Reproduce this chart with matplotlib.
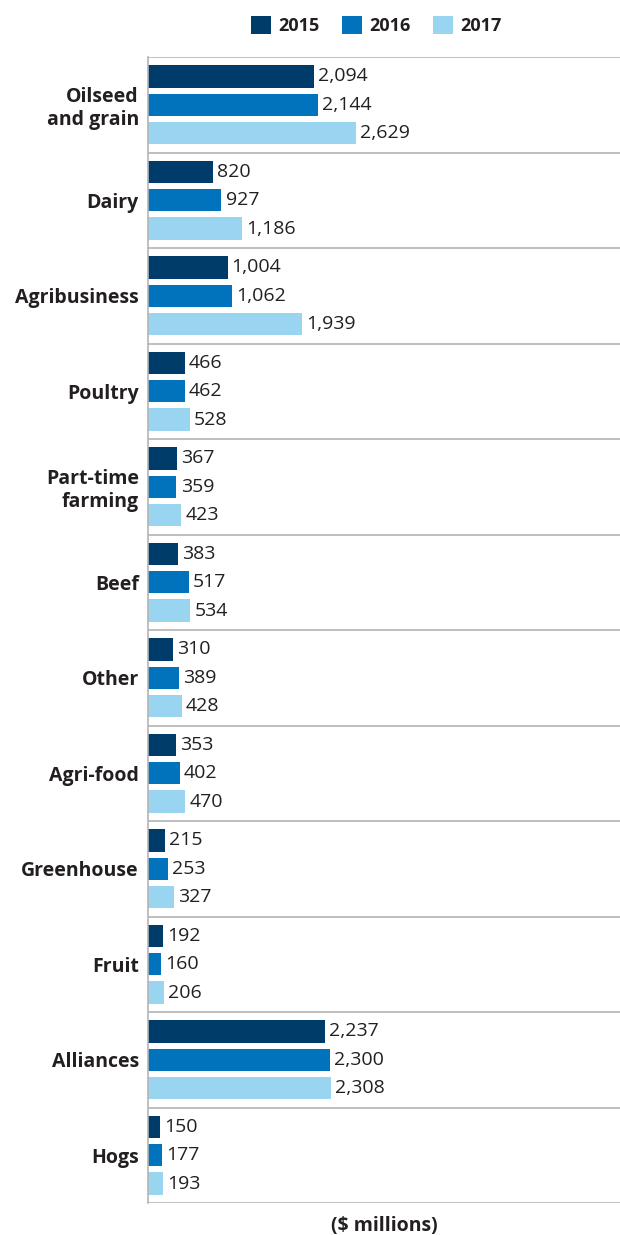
import matplotlib
matplotlib.use('Agg')
import matplotlib.pyplot as plt
import numpy as np
from matplotlib.patches import Patch

# Loan values by sector, $ millions
sectors = ['Oilseed\nand grain', 'Dairy', 'Agribusiness', 'Poultry',
           'Part-time\nfarming', 'Beef', 'Other', 'Agri-food', 'Greenhouse',
           'Fruit', 'Alliances', 'Hogs']
years = ['2015', '2016', '2017']
v2015 = [2094, 820, 1004, 466, 367, 383, 310, 353, 215, 192, 2237, 150]
v2016 = [2144, 927, 1062, 462, 359, 517, 389, 402, 253, 160, 2300, 177]
v2017 = [2629, 1186, 1939, 528, 423, 534, 428, 470, 327, 206, 2308, 193]

colors = ['#003c69', '#0073bc', '#99d4f1']
text_color = '#231f20'
line_color = '#b4b4b4'

plt.rcParams['font.family'] = ['Open Sans', 'DejaVu Sans']

fig = plt.figure(figsize=(6.2, 12.35), dpi=100)
ax = fig.add_axes([148 / 620, 1 - 1203 / 1235, 1 - 148 / 620, (1203 - 57) / 1235])

y = np.arange(len(sectors))
step = 0.296
bar_h = 0.232
for k, (vals, col) in enumerate(zip([v2015, v2016, v2017], colors)):
    bars = ax.barh(y + (k - 1) * step, vals, height=bar_h, color=col)
    ax.bar_label(bars, labels=[f'{v:,}' for v in vals], padding=3,
                 fontsize=14, color=text_color)

# separators between sector groups
for b in np.arange(-0.5, len(sectors), 1.0):
    ax.axhline(b, color=line_color, lw=1.2)

ax.set_ylim(len(sectors) - 0.5, -0.5)
ax.set_xlim(0, 5960)
ax.set_yticks(y)
ax.set_yticklabels(sectors, fontsize=14, fontweight='bold', color=text_color,
                   linespacing=1.2)
ax.tick_params(axis='y', length=0, pad=6.5)
ax.set_xticks([])
for side in ['top', 'right', 'bottom']:
    ax.spines[side].set_visible(False)
ax.spines['left'].set_color(line_color)
ax.spines['left'].set_linewidth(1.2)

ax.set_xlabel('($ millions)', fontsize=14, fontweight='bold', color=text_color,
              labelpad=9)

handles = [Patch(facecolor=c, edgecolor='none') for c in colors]
fig.legend(handles, years, loc='upper center', bbox_to_anchor=(0.607, 1.0),
           ncol=3, frameon=False, handlelength=1.1, handleheight=1.1,
           handletextpad=0.4, columnspacing=1.25,
           prop={'weight': 'bold', 'size': 13}, labelcolor=text_color)

fig.savefig('out.png', dpi=100)
